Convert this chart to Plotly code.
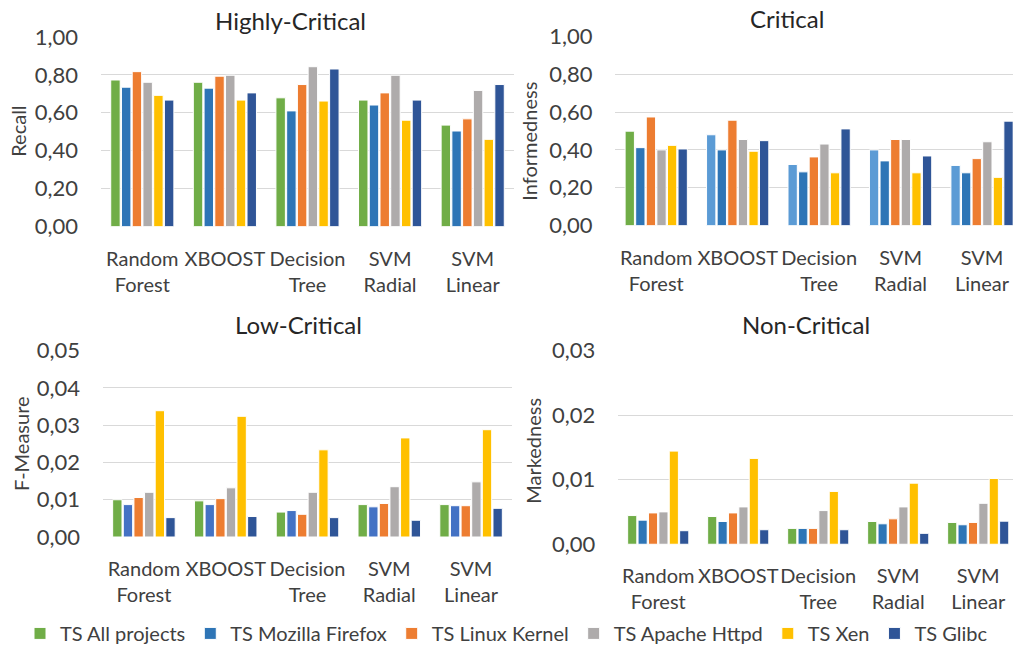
import plotly.graph_objects as go

categories = ["Random<br>Forest", "XBOOST", "Decision<br>Tree", "SVM<br>Radial", "SVM<br>Linear"]
series_names = ["TS All projects", "TS Mozilla Firefox", "TS Linux Kernel",
                "TS Apache Httpd", "TS Xen", "TS Glibc"]

# Recall (Highly-Critical)
recall_all = [0.773, 0.761, 0.679, 0.667, 0.535]
recall_firefox = [0.735, 0.730, 0.610, 0.641, 0.504]
recall_linux = [0.817, 0.793, 0.749, 0.705, 0.568]
recall_apache = [0.761, 0.798, 0.843, 0.798, 0.718]
recall_xen = [0.692, 0.667, 0.662, 0.561, 0.460]
recall_glibc = [0.667, 0.705, 0.831, 0.667, 0.749]

# Informedness (Critical)
inf_all = [0.499, 0.480, 0.323, 0.400, 0.318]
inf_firefox = [0.412, 0.400, 0.284, 0.342, 0.279]
inf_linux = [0.574, 0.557, 0.363, 0.455, 0.354]
inf_apache = [0.400, 0.455, 0.431, 0.455, 0.443]
inf_xen = [0.424, 0.393, 0.279, 0.279, 0.255]
inf_glibc = [0.405, 0.449, 0.511, 0.368, 0.552]

# F-Measure (Low-Critical)
f_all = [0.0100, 0.0097, 0.0067, 0.0087, 0.0087]
f_firefox = [0.0087, 0.0087, 0.0071, 0.0081, 0.0084]
f_linux = [0.0106, 0.0103, 0.0061, 0.0090, 0.0084]
f_apache = [0.0120, 0.0132, 0.0120, 0.0135, 0.0148]
f_xen = [0.0339, 0.0324, 0.0234, 0.0266, 0.0288]
f_glibc = [0.0052, 0.0055, 0.0052, 0.0045, 0.0077]

# Markedness (Non-Critical)
mk_all = [0.00445, 0.00430, 0.00246, 0.00353, 0.00338]
mk_firefox = [0.00374, 0.00353, 0.00246, 0.00317, 0.00302]
mk_linux = [0.00486, 0.00486, 0.00246, 0.00394, 0.00338]
mk_apache = [0.00502, 0.00579, 0.00522, 0.00579, 0.00635]
mk_xen = [0.01444, 0.01331, 0.00819, 0.00947, 0.01019]
mk_glibc = [0.00210, 0.00225, 0.00225, 0.00169, 0.00358]

GREEN = "#70AD47"
BLUE = "#2E75B6"
BLUE2 = "#4472C4"
LIGHTBLUE = "#5B9BD5"
ORANGE = "#ED7D31"
GRAY = "#AEABAB"
YELLOW = "#FFC000"
DARK = "#2F5597"

FONT = "Lato, Calibri, Carlito, sans-serif"
TXT = "#404040"

panels = [
    dict(xa="x", ya="y", data=[recall_all, recall_firefox, recall_linux, recall_apache, recall_xen, recall_glibc],
         colors=[GREEN, BLUE, ORANGE, GRAY, YELLOW, DARK], legend=True),
    dict(xa="x2", ya="y2", data=[inf_all, inf_firefox, inf_linux, inf_apache, inf_xen, inf_glibc],
         colors=[[GREEN] + [LIGHTBLUE] * 4, BLUE, ORANGE, GRAY, YELLOW, DARK], legend=False),
    dict(xa="x3", ya="y3", data=[f_all, f_firefox, f_linux, f_apache, f_xen, f_glibc],
         colors=[GREEN, BLUE2, ORANGE, GRAY, YELLOW, DARK], legend=False),
    dict(xa="x4", ya="y4", data=[mk_all, mk_firefox, mk_linux, mk_apache, mk_xen, mk_glibc],
         colors=[GREEN, BLUE, ORANGE, GRAY, YELLOW, DARK], legend=False),
]

fig = go.Figure()
for p in panels:
    for name, vals, col in zip(series_names, p["data"], p["colors"]):
        fig.add_trace(go.Bar(
            x=categories, y=vals, name=name, xaxis=p["xa"], yaxis=p["ya"],
            marker=dict(color=col, line=dict(color="white", width=1)),
            showlegend=p["legend"], legendgroup=name,
        ))

xcommon = dict(showgrid=False, zeroline=False, showline=False, ticks="", automargin=False,
               tickangle=0, tickfont=dict(family=FONT, size=20, color=TXT), ticklabelstandoff=18,
               type="category")
ycommon = dict(showgrid=True, gridcolor="#D9D9D9", gridwidth=1, zeroline=False,
               showline=False, ticks="", tickformat=".2f", automargin=False,
               tickfont=dict(family=FONT, size=22, color=TXT), ticklabelstandoff=22)

fig.update_layout(
    width=1013, height=653, autosize=False,
    margin=dict(l=0, r=0, t=0, b=0),
    paper_bgcolor="white", plot_bgcolor="white",
    separators=",.",
    barmode="group", bargap=0.22, bargroupgap=0.12,
    font=dict(family=FONT, color=TXT),
    xaxis=dict(domain=[0.0997, 0.5074], anchor="y", range=[-0.5, 4.5], **xcommon),
    yaxis=dict(domain=[0.6498, 0.9429], anchor="x", range=[0, 1], dtick=0.2, **ycommon),
    xaxis2=dict(domain=[0.6076, 1.0], anchor="y2", range=[-0.5, 4.38], **xcommon),
    yaxis2=dict(domain=[0.6513, 0.9438], anchor="x2", range=[0, 1], dtick=0.2, **ycommon),
    xaxis3=dict(domain=[0.1017, 0.5054], anchor="y3", range=[-0.5, 4.5], **xcommon),
    yaxis3=dict(domain=[0.1700, 0.4579], anchor="x3", range=[0, 0.05], dtick=0.01, **ycommon),
    xaxis4=dict(domain=[0.6103, 1.0], anchor="y4", range=[-0.5, 4.435], **xcommon),
    yaxis4=dict(domain=[0.1588, 0.4579], anchor="x4", range=[0, 0.03], dtick=0.01, **ycommon),
    legend=dict(orientation="h", x=0.5, xanchor="center", y=0.021, yanchor="middle",
                font=dict(family=FONT, size=20, color=TXT), traceorder="normal",
                itemwidth=30, tracegroupgap=0),
)

titles = [("Highly-Critical", 290, 21), ("Critical", 787, 19),
          ("Low-Critical", 298, 328), ("Non-Critical", 806, 328)]
for text, px, py in titles:
    fig.add_annotation(text=text, x=px / 1013, y=1 - py / 653, xref="paper", yref="paper",
                       showarrow=False, xanchor="center", yanchor="middle",
                       font=dict(family=FONT, size=24, color="#262626"))

ytitles = [("Recall", 18, 133), ("Informedness", 529, 143),
           ("F-Measure", 21, 448), ("Markedness", 533, 455)]
for text, px, py in ytitles:
    fig.add_annotation(text=text, x=px / 1013, y=1 - py / 653, xref="paper", yref="paper",
                       showarrow=False, xanchor="center", yanchor="middle", textangle=-90,
                       font=dict(family=FONT, size=20, color=TXT))

fig.write_html("out.html")
